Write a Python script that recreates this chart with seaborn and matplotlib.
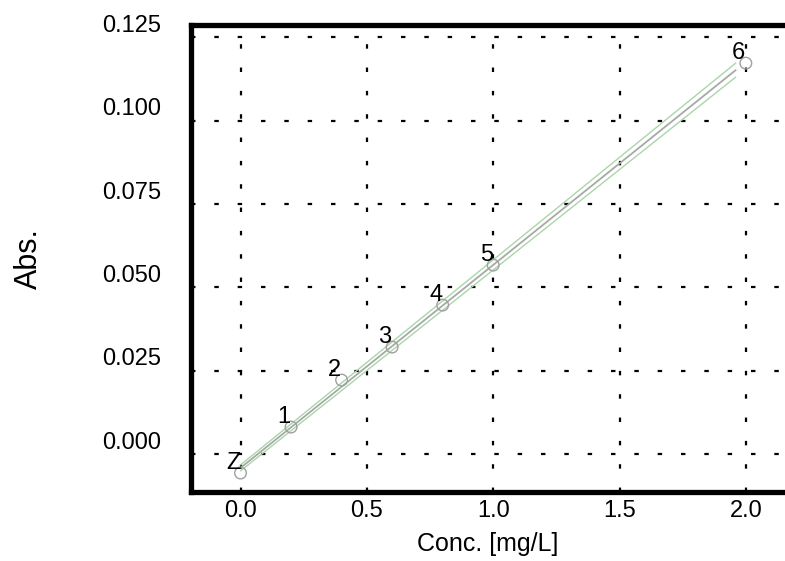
import numpy as np
import pandas as pd
import matplotlib
matplotlib.use("Agg")
import matplotlib.pyplot as plt
import matplotlib.transforms as mtransforms
import seaborn as sns

# Datos (curva de calibracion)
conc = [0.0, 0.2, 0.4, 0.6, 0.8, 1.0, 2.0]
absorb = [-0.0057, 0.0081, 0.0222, 0.0321, 0.0447, 0.0567, 0.1173]
etiquetas = ["Z", "1", "2", "3", "4", "5", "6"]

# Extremos de la recta y semiancho de la banda verde en cada extremo
banda_x = [0.0, 1.96]
banda_semiancho = [0.0009, 0.0021]

x_ticks = [0.0, 0.5, 1.0, 1.5, 2.0]
y_ticks = [0.000, 0.025, 0.050, 0.075, 0.100, 0.125]

sns.set_style("white")
plt.rcParams["font.family"] = ["Liberation Sans Narrow", "Liberation Sans", "DejaVu Sans"]
plt.rcParams["text.color"] = "black"
plt.rcParams["axes.labelcolor"] = "black"
plt.rcParams["xtick.color"] = "black"
plt.rcParams["ytick.color"] = "black"

df = pd.DataFrame({"conc": conc, "abs": absorb, "label": etiquetas})

# Ajuste lineal
pend, inter = np.polyfit(conc, absorb, 1)
recta = pd.DataFrame({"conc": banda_x})
recta["fit"] = pend * recta["conc"] + inter
recta["hi"] = recta["fit"] + banda_semiancho
recta["lo"] = recta["fit"] - banda_semiancho

fig = plt.figure(figsize=(7.85, 5.61), dpi=100)
ax = fig.add_axes([190.5 / 785, 1 - 492 / 561, 1 - 190.5 / 785, (492 - 24.5) / 561])

ax.grid(True, color="black", linewidth=1.6, linestyle=(0, (2.0, 8.5)))
ax.set_axisbelow(True)

sns.lineplot(data=recta, x="conc", y="hi", ax=ax, color="#a9d6a9", linewidth=1.0)
sns.lineplot(data=recta, x="conc", y="lo", ax=ax, color="#a9d6a9", linewidth=1.0)
sns.lineplot(data=recta, x="conc", y="fit", ax=ax, color="#a8a8a8", linewidth=1.3)
sns.scatterplot(data=df, x="conc", y="abs", ax=ax, s=70, facecolor="none",
                edgecolor="#a0a0a0", linewidth=1.0, zorder=5)

for _, r in df.iterrows():
    ax.annotate(r["label"], (r["conc"], r["abs"]), xytext=(-7, 10),
                textcoords="offset pixels", ha="center", va="center",
                fontsize=17, color="black", zorder=6)

ax.set_xlim(-0.198, 2.155)
ax.set_ylim(-0.01139, 0.1289)
ax.set_xticks(x_ticks)
ax.set_xticklabels([f"{v:.1f}" for v in x_ticks])
ax.set_yticks(y_ticks)
ax.set_yticklabels([f"{v:.3f}" for v in y_ticks])
ax.tick_params(axis="both", length=0, labelsize=17)
ax.tick_params(axis="y", pad=21)
ax.tick_params(axis="x", pad=6)

desplaza = mtransforms.ScaledTranslation(0, 14 / 100, fig.dpi_scale_trans)
for lab in ax.get_yticklabels():
    lab.set_transform(lab.get_transform() + desplaza)

ax.set_xlabel("Conc. [mg/L]", fontsize=18, labelpad=7)
ax.set_ylabel("Abs.", fontsize=22, labelpad=42)

for lado in ["left", "top", "bottom"]:
    ax.spines[lado].set_linewidth(3.8)
    ax.spines[lado].set_color("black")
ax.spines["right"].set_visible(False)

fig.savefig("out.png", dpi=100)
